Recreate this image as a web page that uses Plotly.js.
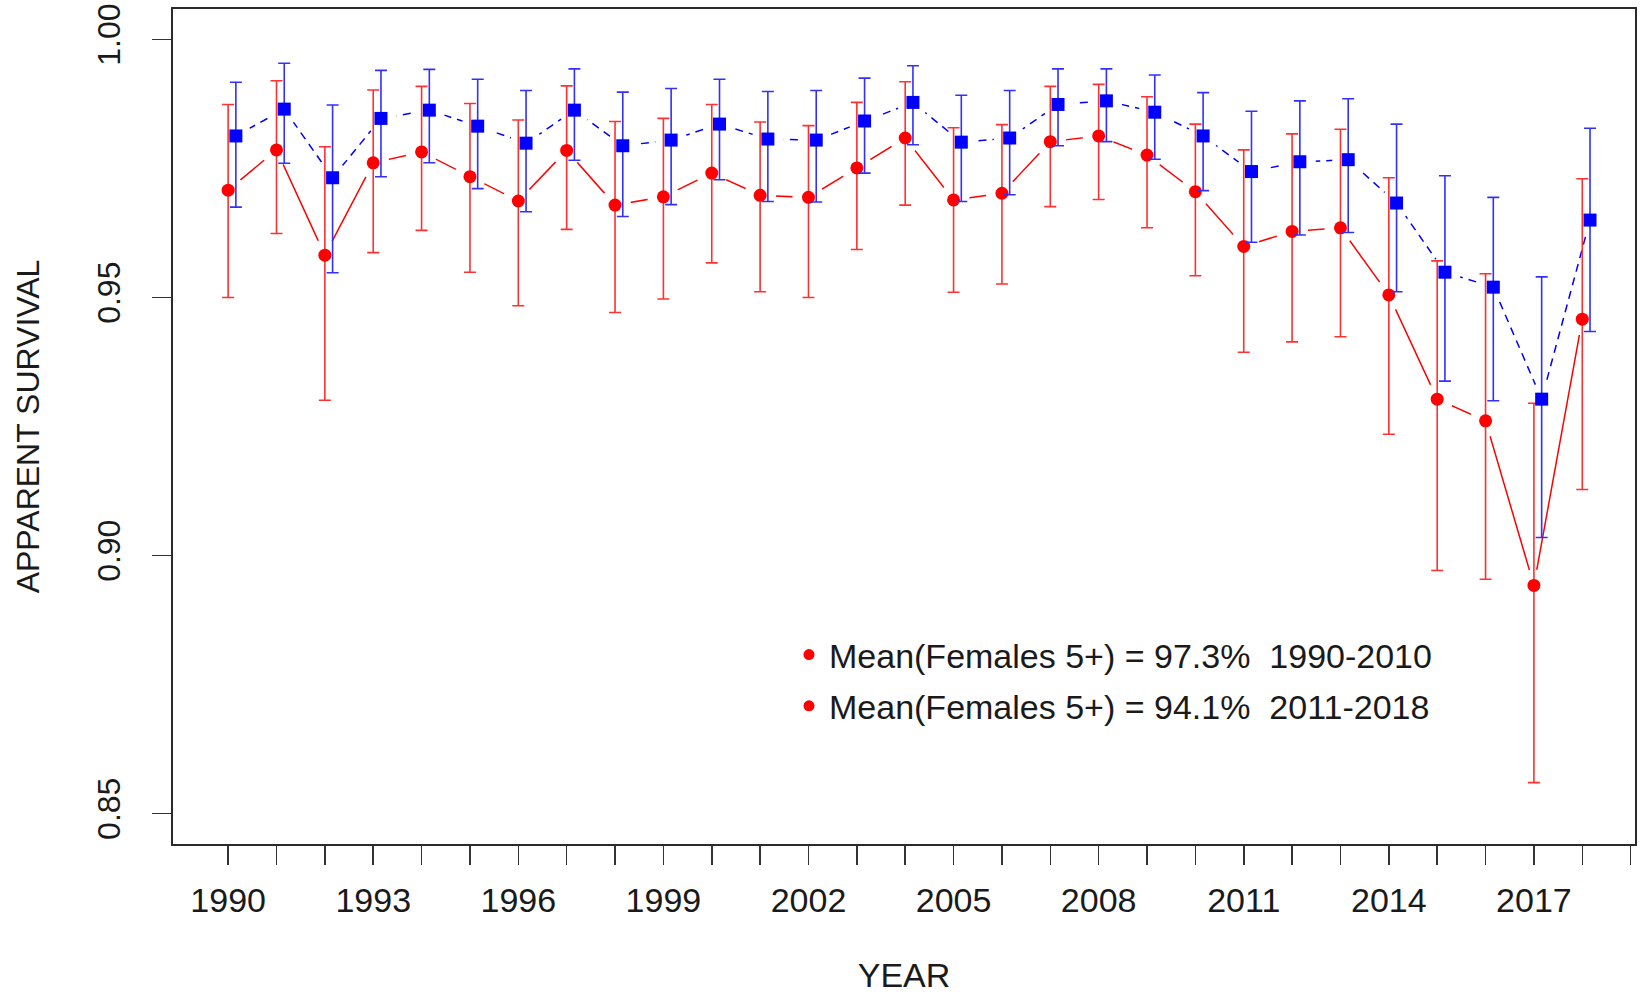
<!DOCTYPE html>
<html>
<head>
<meta charset="utf-8">
<script src="https://cdn.plot.ly/plotly-3.0.1.min.js"></script>
<style>
html,body{margin:0;padding:0;background:#ffffff;}
#chart{width:1642px;height:994px;}
</style>
</head>
<body>
<div id="chart"></div>
<script>
const years = [1990,1991,1992,1993,1994,1995,1996,1997,1998,1999,2000,2001,2002,2003,2004,2005,2006,2007,2008,2009,2010,2011,2012,2013,2014,2015,2016,2017,2018];

const redMean  = [0.9708,0.9786,0.9582,0.9761,0.9782,0.9734,0.9687,0.9785,0.9679,0.9695,0.9741,0.9698,0.9694,0.9751,0.9809,0.9689,0.9702,0.9802,0.9813,0.9776,0.9705,0.9599,0.9628,0.9635,0.9505,0.9303,0.9261,0.8942,0.9458];
const redUpper = [0.9874,0.9920,0.9792,0.9902,0.9909,0.9876,0.9844,0.9910,0.9841,0.9847,0.9874,0.9840,0.9833,0.9878,0.9918,0.9829,0.9835,0.9909,0.9913,0.9889,0.9836,0.9786,0.9817,0.9826,0.9732,0.9571,0.9546,0.9295,0.9730];
const redLower = [0.9500,0.9624,0.9301,0.9587,0.9630,0.9549,0.9484,0.9632,0.9471,0.9497,0.9567,0.9511,0.9500,0.9593,0.9679,0.9510,0.9526,0.9676,0.9690,0.9635,0.9542,0.9394,0.9414,0.9424,0.9235,0.8971,0.8954,0.8560,0.9128];

const blueMean  = [0.9813,0.9865,0.9732,0.9847,0.9863,0.9832,0.9799,0.9863,0.9794,0.9805,0.9836,0.9807,0.9805,0.9842,0.9878,0.9801,0.9809,0.9874,0.9881,0.9859,0.9813,0.9744,0.9763,0.9767,0.9683,0.9549,0.9520,0.9303,0.9650];
const blueUpper = [0.9917,0.9954,0.9873,0.9940,0.9942,0.9923,0.9901,0.9943,0.9898,0.9905,0.9923,0.9899,0.9901,0.9925,0.9949,0.9892,0.9901,0.9943,0.9943,0.9931,0.9897,0.9861,0.9881,0.9885,0.9836,0.9736,0.9694,0.9540,0.9828];
const blueLower = [0.9675,0.9760,0.9548,0.9734,0.9761,0.9711,0.9666,0.9766,0.9657,0.9680,0.9728,0.9686,0.9685,0.9741,0.9796,0.9686,0.9699,0.9794,0.9802,0.9768,0.9707,0.9607,0.9621,0.9626,0.9511,0.9338,0.9300,0.9035,0.9434];

const xTickVals = [1990,1991,1992,1993,1994,1995,1996,1997,1998,1999,2000,2001,2002,2003,2004,2005,2006,2007,2008,2009,2010,2011,2012,2013,2014,2015,2016,2017,2018,2019];
const xTickText = ['1990','','','1993','','','1996','','','1999','','','2002','','','2005','','','2008','','','2011','','','2014','','','2017','',''];
const yTickVals = [0.85,0.90,0.95,1.00];
const yTickText = ['0.85','0.90','0.95','1.00'];

const legendLabels = ['Mean(Females 5+) = 97.3%\u00a0 1990-2010', 'Mean(Females 5+) = 94.1%\u00a0 2011-2018'];
const xTitle = 'YEAR';
const yTitle = 'APPARENT SURVIVAL';

// style constants
const BLUE_OFFSET = 0.16;
const FONT = '"Liberation Sans", Arial, Helvetica, sans-serif';
const RED = '#ff0000';
const BLUE = '#0000ff';

const blueX = years.map(y => y + BLUE_OFFSET);
const plus = (m, u) => u.map((v, i) => v - m[i]);
const minus = (m, l) => l.map((v, i) => m[i] - v);

const traces = [
  {x: years, y: redMean, type: 'scatter', mode: 'lines', line: {color: RED, width: 1.5}, hoverinfo: 'skip', showlegend: false},
  {x: blueX, y: blueMean, type: 'scatter', mode: 'lines', line: {color: BLUE, width: 1.5, dash: '8px,6px'}, hoverinfo: 'skip', showlegend: false},
  {x: years, y: redMean, type: 'scatter', mode: 'markers', marker: {color: '#ffffff', size: 32}, hoverinfo: 'skip', showlegend: false},
  {x: blueX, y: blueMean, type: 'scatter', mode: 'markers', marker: {color: '#ffffff', size: 32}, hoverinfo: 'skip', showlegend: false},
  {x: years, y: redMean, type: 'scatter', mode: 'markers', name: 'Females 5+',
    marker: {color: RED, size: 13, symbol: 'circle'},
    error_y: {type: 'data', symmetric: false, array: plus(redMean, redUpper), arrayminus: minus(redMean, redLower), color: '#ff3030', thickness: 1.6, width: 6},
    showlegend: false},
  {x: blueX, y: blueMean, type: 'scatter', mode: 'markers', name: 'Series 2',
    marker: {color: BLUE, size: 13, symbol: 'square'},
    error_y: {type: 'data', symmetric: false, array: plus(blueMean, blueUpper), arrayminus: minus(blueMean, blueLower), color: '#3030ff', thickness: 1.6, width: 6},
    showlegend: false},
  {x: [null], y: [null], type: 'scatter', mode: 'markers', name: legendLabels[0], legendgroup: 'a', marker: {color: RED, size: 11}, showlegend: true},
  {x: [null], y: [null], type: 'scatter', mode: 'markers', name: legendLabels[1], legendgroup: 'b', marker: {color: RED, size: 11}, showlegend: true}
];

const layout = {
  width: 1642, height: 994,
  margin: {l: 173, r: 7, t: 9, b: 150, pad: 0},
  paper_bgcolor: '#ffffff', plot_bgcolor: '#ffffff',
  font: {family: FONT, color: '#1a1a1a'},
  showlegend: true,
  legend: {x: (789 - 173) / 1462, xanchor: 'left', y: (844 - 626) / 835, yanchor: 'top',
    font: {size: 34, color: '#1a1a1a'}, bgcolor: 'rgba(0,0,0,0)', borderwidth: 0, tracegroupgap: 4},
  xaxis: {
    range: [1988.86, 2019.09], tickmode: 'array', tickvals: xTickVals, ticktext: xTickText,
    ticks: 'outside', ticklen: 19, tickwidth: 1.5, tickcolor: '#333333',
    showline: true, mirror: true, linecolor: '#2b2b2b', linewidth: 2,
    showgrid: false, zeroline: false, tickfont: {size: 34, color: '#1a1a1a'},
    ticklabelstandoff: 6,
    title: {text: xTitle, font: {size: 34, color: '#1a1a1a'}, standoff: 46}
  },
  yaxis: {
    range: [0.8441, 1.0059], tickmode: 'array', tickvals: yTickVals, ticktext: yTickText,
    ticks: 'outside', ticklen: 19, tickwidth: 1.5, tickcolor: '#333333',
    showline: true, mirror: true, linecolor: '#2b2b2b', linewidth: 2,
    showgrid: false, zeroline: false, tickangle: -90, tickfont: {size: 32, color: '#1a1a1a'},
    ticklabelstandoff: 19,
    title: {text: yTitle, font: {size: 32, color: '#1a1a1a'}, standoff: 42}
  }
};

Plotly.newPlot('chart', traces, layout, {displayModeBar: false, staticPlot: true});
</script>
</body>
</html>
